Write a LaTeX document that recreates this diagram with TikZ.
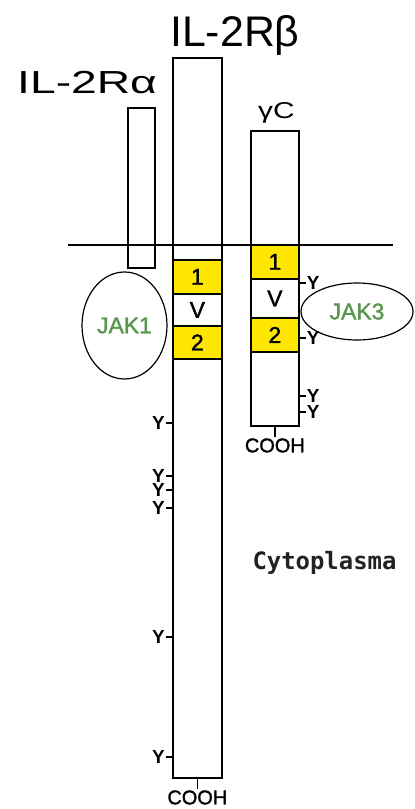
\documentclass[tikz,border=0pt]{standalone}
\usepackage{fontspec}
\setmainfont{Liberation Sans}
\newfontfamily\medfont{Liberation Sans}[FakeBold=1.5]
\newfontfamily\cytofont{DejaVu Sans Mono}
\usepackage{xcolor}
\usepackage{graphicx}
\usepackage{tikz}
\usetikzlibrary{shapes.geometric,positioning}

\definecolor{domyellow}{RGB}{255,230,0}
\definecolor{jakgreen}{RGB}{90,150,80}
\definecolor{cytogray}{RGB}{34,34,34}

\tikzset{
  receptor/.style={draw,line width=1.7bp,fill=white,inner sep=0pt,anchor=north west},
  dom/.style={draw,line width=1.7bp,fill=domyellow,inner sep=0pt,font=\medfont\fontsize{23}{23}\selectfont},
  gap/.style={inner sep=0pt,font=\medfont\fontsize{23}{23}\selectfont},
  jak/.style={draw,ellipse,line width=1.2bp,inner sep=0pt,text=jakgreen,font=\medfont\fontsize{23}{23}\selectfont},
  tyr/.style={inner xsep=0.5bp,inner ysep=0pt,font=\bfseries\fontsize{19}{19}\selectfont},
  cooh/.style={inner sep=1bp,font=\medfont\fontsize{20}{20}\selectfont},
  tick/.style={line width=1.4bp}
}

\begin{document}
\begin{tikzpicture}[x=1bp,y=-1bp]
\useasboundingbox (0,0) rectangle (414,809);
\node[receptor,minimum width=27bp,minimum height=160bp] (ra) at (127,107) {};
\node[receptor,minimum width=49bp,minimum height=720bp] (rb) at (172,57) {};
\node[receptor,minimum width=48bp,minimum height=295bp] (gc) at (250,130) {};
\node[anchor=base west,inner sep=0pt,font=\fontsize{32}{32}\selectfont] (la) at (17,93) {\scalebox{1.45}[1]{IL-2Rα}};
\node[anchor=base west,inner sep=0pt,font=\fontsize{43}{43}\selectfont] (lb) at (170,47) {IL-2Rβ};
\node[anchor=base west,inner sep=0pt,font=\fontsize{23}{23}\selectfont] (lg) at (258,118) {\scalebox{1.3}[1]{γC}};
\node[dom,anchor=north west,minimum width=49bp,minimum height=34bp] (b1) at (172,259) {1};
\node[gap,below=0pt of b1,minimum width=49bp,minimum height=30bp] (bv) {V};
\node[dom,below=0pt of bv,minimum width=49bp,minimum height=33bp] (b2) {2};
\node[dom,anchor=north west,minimum width=48bp,minimum height=34bp] (g1) at (250,244) {1};
\node[gap,below=0pt of g1,minimum width=48bp,minimum height=37bp] (gv) {V};
\node[dom,below=0pt of gv,minimum width=48bp,minimum height=34bp] (g2) {2};
\coordinate (m1) at (68,245);
\coordinate (m2) at (393,245);
\draw[line width=1.6bp] (m1) -- (m2);
\node[jak,minimum width=85bp,minimum height=107bp] (jak1) at (124.5,325.5) {JAK1};
\node[jak,minimum width=112bp,minimum height=57bp] (jak3) at (357,311.5) {JAK3};
\foreach \ty in {423,476,490,508,637,757} {
  \coordinate (ty) at (0,\ty);
  \draw[tick] (rb.west |- ty) -- ++(-6,0) node[left,tyr] {Y};
}
\foreach \ty in {283,338,396,412} {
  \coordinate (ty) at (0,\ty);
  \draw[tick] (gc.east |- ty) -- ++(6,0) node[right,tyr] {Y};
}
\draw[tick] (rb.south) -- ++(0,10) node[below,cooh] {COOH};
\draw[tick] (gc.south) -- ++(0,10) node[below,cooh] {COOH};
\node[text=cytogray,font=\cytofont\bfseries\fontsize{24}{24}\selectfont] (cyto) at (324.5,563) {Cytoplasma};
\end{tikzpicture}
\end{document}
